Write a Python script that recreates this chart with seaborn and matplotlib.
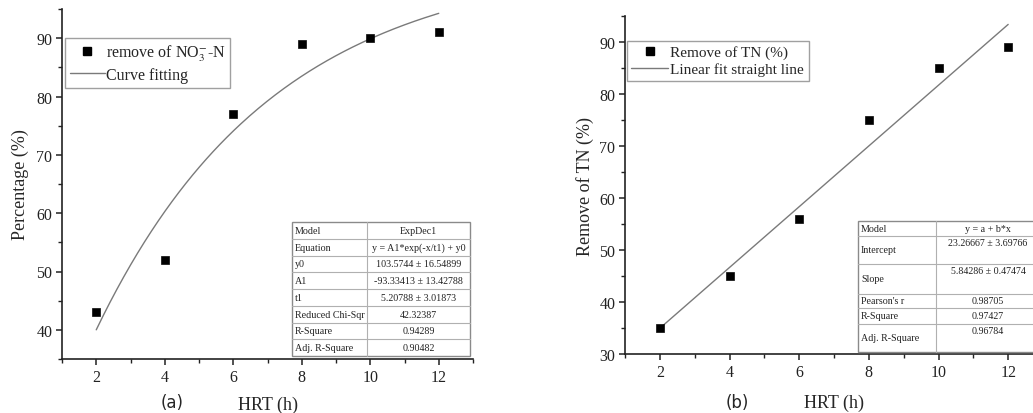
import numpy as np
import pandas as pd
import matplotlib
matplotlib.use('Agg')
import matplotlib.pyplot as plt
from matplotlib.ticker import MultipleLocator
from matplotlib.lines import Line2D
from matplotlib.patches import Rectangle
import seaborn as sns

# panel (a): nitrate removal
hrt = [2, 4, 6, 8, 10, 12]
no3_removal = [43, 52, 77, 89, 90, 91]
# ExpDec1 fit parameters shown in the table
y0, A1, t1 = 103.5744, -93.33413, 5.20788
table_a_labels = ['Model', 'Equation', 'y0', 'A1', 't1', 'Reduced Chi-Sqr', 'R-Square', 'Adj. R-Square']
table_a_values = ['ExpDec1', 'y = A1*exp(-x/t1) + y0', '103.5744 \u00b1 16.54899', '-93.33413 \u00b1 13.42788',
                  '5.20788 \u00b1 3.01873', '42.32387', '0.94289', '0.90482']

# panel (b): total nitrogen removal
tn_removal = [35, 45, 56, 75, 85, 89]
table_b_labels = ['Model', 'Intercept', 'Slope', "Pearson's r", 'R-Square', 'Adj. R-Square']
table_b_values = ['y = a + b*x', '23.26667 \u00b1 3.69766', '5.84286 \u00b1 0.47474', '0.98705', '0.97427', '0.96784']

sns.set_style('ticks')
plt.rcParams['font.family'] = ['Liberation Serif', 'DejaVu Serif']
plt.rcParams['mathtext.fontset'] = 'stix'

W, H = 1033, 414
fig = plt.figure(figsize=(W / 100, H / 100), dpi=100)

def px_axes(x0, y_top, x1, y_bot):
    return fig.add_axes([x0 / W, 1 - y_bot / H, (x1 - x0) / W, (y_bot - y_top) / H])

def style_axes(ax):
    sns.despine(ax=ax)
    for s in ['left', 'bottom']:
        ax.spines[s].set_linewidth(1.2)
        ax.spines[s].set_color('#222222')
    ax.xaxis.set_major_locator(MultipleLocator(2))
    ax.xaxis.set_minor_locator(MultipleLocator(1))
    ax.yaxis.set_major_locator(MultipleLocator(10))
    ax.yaxis.set_minor_locator(MultipleLocator(5))
    ax.tick_params(which='major', direction='out', length=4.5, width=1.1, labelsize=11.5,
                   colors='#222222', pad=2.5)
    ax.tick_params(which='minor', direction='out', length=3, width=1.0, colors='#222222')

df = pd.DataFrame({'HRT': hrt, 'NO3': no3_removal, 'TN': tn_removal})
gray = '#7a7a7a'

# ---- panel (a)
ax1 = px_axes(62, 10, 473, 360)
xs = np.linspace(hrt[0], hrt[-1], 200)
fit_a = pd.DataFrame({'HRT': xs, 'fit': A1 * np.exp(-xs / t1) + y0})
sns.lineplot(data=fit_a, x='HRT', y='fit', ax=ax1, color=gray, linewidth=1.0)
sns.scatterplot(data=df, x='HRT', y='NO3', ax=ax1, marker='s', color='black', s=34, edgecolor='black', zorder=3)
ax1.set_xlim(1, 13)
ax1.set_ylim(35, 95)
style_axes(ax1)
ax1.set_xlabel('HRT (h)', fontsize=13, labelpad=8)
ax1.set_ylabel('Percentage (%)', fontsize=13, labelpad=5)
h1 = [Line2D([], [], marker='s', color='black', linestyle='none', markersize=6),
      Line2D([], [], color=gray, linewidth=1.0)]
leg1 = ax1.legend(h1, [r'remove of NO$_3^{-}$-N', 'Curve fitting'], loc='upper left',
                  bbox_to_anchor=(0.007, 0.917), fontsize=11.5, frameon=True, fancybox=False,
                  borderaxespad=0, handlelength=2.2, handletextpad=0.05, borderpad=0.3, labelspacing=0.25)
leg1.get_frame().set_edgecolor('#888888')
leg1.get_frame().set_linewidth(1.0)

# ---- panel (b)
ax2 = px_axes(625, 17, 1043, 355)
sns.regplot(data=df, x='HRT', y='TN', ax=ax2, ci=None, scatter=False, truncate=True,
            line_kws={'color': gray, 'linewidth': 1.0})
sns.scatterplot(data=df, x='HRT', y='TN', ax=ax2, marker='s', color='black', s=34, edgecolor='black', zorder=3)
ax2.set_xlim(1, 13)
ax2.set_ylim(30, 95)
style_axes(ax2)
ax2.set_xlabel('HRT (h)', fontsize=13, labelpad=10)
ax2.set_ylabel('Remove of TN (%)', fontsize=13, labelpad=4)
h2 = [Line2D([], [], marker='s', color='black', linestyle='none', markersize=6),
      Line2D([], [], color=gray, linewidth=1.0)]
leg2 = ax2.legend(h2, ['Remove of TN (%)', 'Linear fit straight line'], loc='upper left',
                  bbox_to_anchor=(0.004, 0.927), fontsize=11, frameon=True, fancybox=False,
                  borderaxespad=0, handlelength=2.4, handletextpad=0.15, borderpad=0.3, labelspacing=0.2)
leg2.get_frame().set_edgecolor('#888888')
leg2.get_frame().set_linewidth(1.0)

# ---- overlay in pixel coordinates for the fit tables and panel tags
ov = fig.add_axes([0, 0, 1, 1], zorder=10)
ov.set_xlim(0, W)
ov.set_ylim(H, 0)
ov.axis('off')

def draw_table(x0, x1, x2, rows, labels, values, top_vals):
    ov.add_patch(Rectangle((x0, rows[0]), x2 - x0, rows[-1] - rows[0], facecolor='white',
                           edgecolor='#8a8a8a', linewidth=1.0))
    ov.plot([x1, x1], [rows[0], rows[-1]], color='#b0b0b0', linewidth=0.8)
    for yb in rows[1:-1]:
        ov.plot([x0, x2], [yb, yb], color='#b0b0b0', linewidth=0.8)
    for i, (lab, val) in enumerate(zip(labels, values)):
        ym = (rows[i] + rows[i + 1]) / 2
        ov.text(x0 + 3, ym, lab, fontsize=7.2, va='center', ha='left', color='#222222')
        if top_vals[i]:
            ov.text((x1 + x2) / 2, rows[i] + 2, val, fontsize=7.2, va='top', ha='center', color='#222222')
        else:
            ov.text((x1 + x2) / 2, ym, val, fontsize=7.2, va='center', ha='center', color='#222222')

rows_a = list(np.linspace(223, 357, len(table_a_labels) + 1))
draw_table(292, 367, 470, rows_a, table_a_labels, table_a_values, [False] * len(table_a_labels))
rows_b = [222, 237, 265, 295, 309, 325, 353]
draw_table(858, 936, 1040, rows_b, table_b_labels, table_b_values,
           [False, True, True, False, False, True])

ov.text(172, 403, '(a)', fontsize=12, family='DejaVu Sans', ha='center', va='center')
ov.text(737, 403, '(b)', fontsize=12, family='DejaVu Sans', ha='center', va='center')

fig.savefig('out.png', dpi=100)
